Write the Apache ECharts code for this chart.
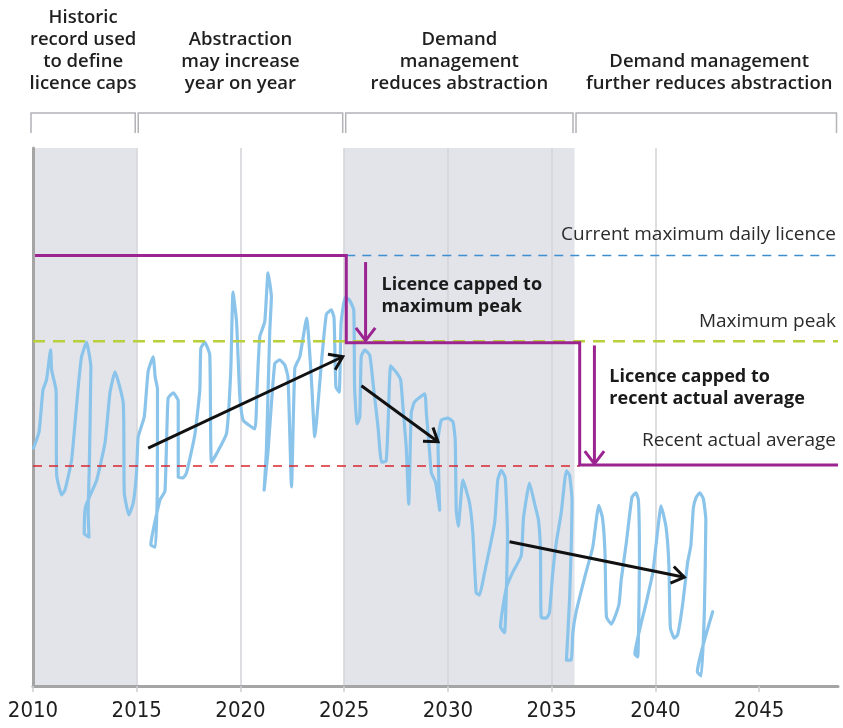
<!DOCTYPE html>
<html>
<head>
<meta charset="utf-8">
<script src="https://cdn.jsdelivr.net/npm/echarts@6.0.0/dist/echarts.min.js"></script>
<style>
  html, body { margin: 0; padding: 0; background: #fff; }
  #chart { width: 843px; height: 728px; }
</style>
</head>
<body>
<div id="chart"></div>
<script>
// ── Data (years on x, abstraction on an unlabelled 0–100 scale) ──
const yearTicks = [2010, 2015, 2020, 2025, 2030, 2035, 2040, 2045];

const shadedPeriods = [[2010, 2015], [2025, 2036.1]];
const phases = [[2010, 2015], [2015, 2025], [2025, 2036.1], [2036.1, 2048.8]];
const phaseTitles = [
  'Historic\nrecord used\nto define\nlicence caps',
  'Abstraction\nmay increase\nyear on year',
  'Demand\nmanagement\nreduces abstraction',
  'Demand management\nfurther reduces abstraction'
];

const maxLicence = 80;
const maxPeak = 64.1;
const recentAverage = 40.9;

const licenceCap = [
  [2010.1, 80], [2025.1, 80], [2025.1, 63.8],
  [2036.35, 63.8], [2036.35, 41.1], [2048.8, 41.1]
];

const abstraction = [
  [2010.02, 44.2], [2010.29, 47.2], [2010.48, 55.0], [2010.65, 56.9], [2010.85, 62.5],
  [2010.90, 58.7], [2011.11, 55.0], [2011.14, 39.2], [2011.38, 35.5], [2011.54, 36.4],
  [2011.86, 42.0], [2012.18, 55.6], [2012.34, 61.2], [2012.58, 63.9], [2012.79, 59.3],
  [2012.71, 40.1], [2012.66, 32.2], [2012.70, 27.7], [2012.47, 28.3], [2012.53, 33.3],
  [2013.07, 38.3], [2013.47, 45.2], [2013.71, 54.5], [2013.95, 58.4], [2014.35, 52.6],
  [2014.40, 35.9], [2014.62, 31.8], [2014.83, 34.0], [2014.99, 39.6], [2015.07, 46.3],
  [2015.36, 50.0], [2015.55, 58.5], [2015.79, 61.2], [2015.89, 57.4], [2016.00, 55.2],
  [2015.99, 36.4], [2015.90, 25.8], [2015.68, 26.2], [2016.12, 34.6], [2016.36, 36.2],
  [2016.51, 53.5], [2016.76, 54.5], [2017.00, 53.0], [2017.00, 38.8], [2017.24, 38.7],
  [2017.40, 39.6], [2017.80, 46.7], [2018.04, 55.0], [2018.09, 62.8], [2018.28, 63.9],
  [2018.52, 61.5], [2018.60, 41.6], [2018.92, 43.7], [2019.33, 47.0], [2019.53, 58.4],
  [2019.64, 73.2], [2019.81, 67.7], [2019.97, 53.7], [2020.13, 49.4], [2020.69, 47.8],
  [2020.79, 54.5], [2020.93, 64.9], [2021.17, 67.7], [2021.33, 76.8], [2021.49, 72.3],
  [2021.41, 65.8], [2021.25, 43.9], [2021.14, 36.4], [2021.32, 43.3], [2021.65, 59.9],
  [2021.89, 60.6], [2022.13, 59.7], [2022.29, 57.4], [2022.46, 37.0], [2022.62, 59.1],
  [2022.86, 61.2], [2023.19, 68.4], [2023.42, 56.9], [2023.58, 46.3], [2023.66, 48.9],
  [2023.90, 60.0], [2024.14, 69.1], [2024.38, 69.9], [2024.51, 68.4], [2024.60, 55.6],
  [2024.76, 54.6], [2024.85, 67.5], [2025.05, 72.3], [2025.26, 71.7], [2025.46, 69.9],
  [2025.50, 55.6], [2025.62, 48.7], [2025.75, 50.0], [2025.82, 61.2], [2025.99, 62.5],
  [2026.23, 61.5], [2026.39, 56.3], [2026.63, 48.1], [2026.80, 41.6], [2027.02, 41.8],
  [2027.12, 49.4], [2027.24, 59.5], [2027.53, 58.2], [2027.72, 56.9], [2027.83, 51.9],
  [2027.99, 44.4], [2028.11, 33.8], [2028.23, 50.7], [2028.39, 52.8], [2028.88, 54.3],
  [2028.96, 50.7], [2029.12, 43.3], [2029.20, 39.6], [2029.40, 37.9], [2029.60, 32.7],
  [2029.52, 45.7], [2029.68, 49.4], [2030.00, 49.8], [2030.24, 49.1], [2030.35, 45.7],
  [2030.40, 32.7], [2030.50, 29.7], [2030.72, 38.3], [2031.04, 34.0], [2031.20, 28.4],
  [2031.36, 17.3], [2031.52, 16.9], [2031.76, 21.0], [2032.25, 30.3], [2032.40, 38.3],
  [2032.57, 40.1], [2032.76, 38.7], [2032.87, 28.1], [2032.73, 9.9], [2032.53, 11.0],
  [2032.81, 18.2], [2033.13, 21.2], [2033.53, 24.2], [2033.64, 31.2], [2033.93, 37.7],
  [2034.17, 34.0], [2034.36, 30.9], [2034.46, 25.3], [2034.49, 12.8], [2034.74, 12.6],
  [2034.89, 13.6], [2035.05, 21.0], [2035.22, 26.6], [2035.46, 32.2], [2035.71, 40.0],
  [2035.86, 39.2], [2035.98, 34.6], [2035.86, 16.0], [2035.71, 4.8], [2035.94, 4.8],
  [2036.02, 9.9], [2036.18, 13.8], [2036.66, 21.2], [2036.98, 25.8], [2037.27, 33.6],
  [2037.45, 31.2], [2037.57, 24.7], [2037.64, 12.8], [2037.88, 11.5], [2038.24, 15.1],
  [2038.35, 19.7], [2038.59, 26.4], [2038.87, 35.1], [2039.06, 35.9], [2039.18, 34.6],
  [2039.23, 24.3], [2039.15, 5.4], [2039.01, 5.9], [2039.55, 15.4], [2039.87, 21.0],
  [2040.11, 29.0], [2040.27, 33.5], [2040.51, 29.6], [2040.65, 22.5], [2040.72, 10.8],
  [2040.91, 8.9], [2041.07, 9.5], [2041.31, 15.1], [2041.55, 22.9], [2041.71, 26.2],
  [2041.83, 33.1], [2041.97, 35.1], [2042.14, 35.9], [2042.31, 34.8], [2042.43, 30.9],
  [2042.36, 14.1], [2042.21, 1.9], [2042.02, 2.6], [2042.76, 13.8]
];

// trend arrows: [fromYear, fromValue, toYear, toValue]
const trendArrows = [
  [2015.55, 44.2, 2024.93, 61.2],
  [2025.83, 55.8, 2029.52, 45.4],
  [2032.97, 26.8, 2041.39, 20.2]
];
const capArrows = [
  [2026.03, 78.8, 2026.03, 64.2],
  [2037.06, 63.3, 2037.06, 41.3]
];

// ── Helpers ──
const TEXT_FONT = "'Open Sans', 'Noto Sans', sans-serif";

function arrowItem(color, headLen, headAng) {
  return (params, api) => {
    const p1 = api.coord([api.value(0), api.value(1)]);
    const p2 = api.coord([api.value(2), api.value(3)]);
    const ang = Math.atan2(p2[1] - p1[1], p2[0] - p1[0]);
    const h1 = [p2[0] - headLen * Math.cos(ang - headAng), p2[1] - headLen * Math.sin(ang - headAng)];
    const h2 = [p2[0] - headLen * Math.cos(ang + headAng), p2[1] - headLen * Math.sin(ang + headAng)];
    return {
      type: 'group',
      children: [
        { type: 'line', shape: { x1: p1[0], y1: p1[1], x2: p2[0], y2: p2[1] },
          style: { stroke: color, lineWidth: 3 } },
        { type: 'polyline', shape: { points: [h1, p2, h2] },
          style: { stroke: color, lineWidth: 3, fill: 'none', lineJoin: 'miter' } }
      ]
    };
  };
}

const chart = echarts.init(document.getElementById('chart'), null, { renderer: 'canvas' });

const option = {
  animation: false,
  backgroundColor: '#fff',
  grid: { left: 33, right: 5, top: 148, bottom: 42 },
  xAxis: {
    type: 'value', min: 2010, max: 2048.8, interval: 5,
    axisLine: { show: true, onZero: false, lineStyle: { color: '#a5a5a5', width: 3 } },
    axisTick: { show: true, length: 6, customValues: yearTicks, lineStyle: { color: '#cdcdd3', width: 1.5 } },
    axisLabel: {
      customValues: yearTicks, color: '#1e1e1e', fontSize: 22, margin: 14,
      fontFamily: "'Liberation Sans Narrow', 'DejaVu Sans Condensed', sans-serif",
      formatter: v => String(v)
    },
    splitLine: { show: true, showMinLine: false, showMaxLine: false, lineStyle: { color: '#d3d3d9', width: 1.5 } }
  },
  yAxis: {
    type: 'value', min: 0, max: 100,
    axisLine: { show: true, lineStyle: { color: '#a5a5a5', width: 3 } },
    axisTick: { show: false }, axisLabel: { show: false }, splitLine: { show: false }
  },
  series: [
    // grey shaded periods
    {
      type: 'custom', z: -1, silent: true,
      data: shadedPeriods,
      encode: { x: [0, 1] },
      renderItem: (params, api) => {
        const cs = params.coordSys;
        const x1 = api.coord([api.value(0), 0])[0];
        const x2 = api.coord([api.value(1), 0])[0];
        return { type: 'rect', shape: { x: x1, y: cs.y, width: x2 - x1, height: cs.height },
                 style: { fill: '#e2e4ea' } };
      }
    },
    // phase brackets and titles above the plot
    {
      type: 'custom', silent: true, clip: false,
      data: phases.map((p, i) => [p[0], p[1], i]),
      encode: { x: [0, 1] },
      renderItem: (params, api) => {
        const cs = params.coordSys;
        const i = api.value(2);
        const x1 = api.coord([api.value(0), 0])[0] + (i === 0 ? -2 : 1.5);
        const x2 = api.coord([api.value(1), 0])[0] - 1.5;
        const top = cs.y - 35, bot = cs.y - 15;
        return {
          type: 'group',
          children: [
            { type: 'polyline', shape: { points: [[x1, bot], [x1, top], [x2, top], [x2, bot]] },
              style: { stroke: '#b3b3b8', lineWidth: 1.5, fill: 'none' } },
            { type: 'text', x: (x1 + x2) / 2 + (i === 3 ? 3 : 0), y: cs.y - 53,
              style: { text: phaseTitles[i], align: 'center', verticalAlign: 'bottom',
                       font: `600 18.5px ${TEXT_FONT}`, lineHeight: 22, fill: '#1f1f1f' } }
          ]
        };
      }
    },
    // abstraction record
    {
      name: 'Abstraction', type: 'line', z: 3,
      data: abstraction, showSymbol: false, smooth: 0.15,
      lineStyle: { color: '#8bc4ea', width: 3.2, join: 'round', cap: 'round' }
    },
    // reference levels
    {
      name: 'Recent actual average', type: 'line', z: 4, showSymbol: false,
      data: [[2010, recentAverage], [2036.35, recentAverage]],
      lineStyle: { color: '#d8262e', width: 1.5, type: [9, 7] }
    },
    {
      name: 'Maximum peak', type: 'line', z: 4, showSymbol: false,
      data: [[2010, maxPeak], [2048.8, maxPeak]],
      lineStyle: { color: '#b9d03c', width: 2.5, type: [12, 8] }
    },
    {
      name: 'Current maximum daily licence', type: 'line', z: 4, showSymbol: false,
      data: [[2025.1, maxLicence], [2048.8, maxLicence]],
      lineStyle: { color: '#3d8fcf', width: 1.5, type: [9, 7] }
    },
    // trend arrows
    {
      type: 'custom', z: 5, silent: true,
      data: trendArrows, encode: { x: [0, 2], y: [1, 3] },
      renderItem: arrowItem('#111', 15, 0.6)
    },
    // licence cap step
    {
      name: 'Licence', type: 'line', z: 6, showSymbol: false,
      data: licenceCap,
      lineStyle: { color: '#9b2490', width: 3, join: 'miter' }
    },
    {
      type: 'custom', z: 6, silent: true,
      data: capArrows, encode: { x: [0, 2], y: [1, 3] },
      renderItem: arrowItem('#9b2490', 16, 0.65)
    },
    // level labels, right aligned at the plot edge
    {
      type: 'custom', z: 7, silent: true, clip: false,
      data: [
        [2048.7, maxLicence, -21, 'Current maximum daily licence'],
        [2048.7, maxPeak, -20, 'Maximum peak'],
        [2048.7, recentAverage, -25, 'Recent actual average']
      ],
      encode: { x: 0, y: 1 },
      renderItem: (params, api) => {
        const p = api.coord([api.value(0), api.value(1)]);
        return { type: 'text', x: p[0], y: p[1] + api.value(2),
                 style: { text: api.value(3), align: 'right', verticalAlign: 'middle',
                          font: `19px ${TEXT_FONT}`, fill: '#2b2b2b' } };
      }
    },
    // cap annotations
    {
      type: 'custom', z: 7, silent: true, clip: false,
      data: [
        [2026.8, 76.6, 'Licence capped to\nmaximum peak'],
        [2037.78, 59.5, 'Licence capped to\nrecent actual average']
      ],
      encode: { x: 0, y: 1 },
      renderItem: (params, api) => {
        const p = api.coord([api.value(0), api.value(1)]);
        return { type: 'text', x: p[0], y: p[1],
                 style: { text: api.value(2), align: 'left', verticalAlign: 'top',
                          font: `bold 18px ${TEXT_FONT}`, lineHeight: 22, fill: '#1a1a1a' } };
      }
    }
  ]
};

chart.setOption(option);
</script>
</body>
</html>
